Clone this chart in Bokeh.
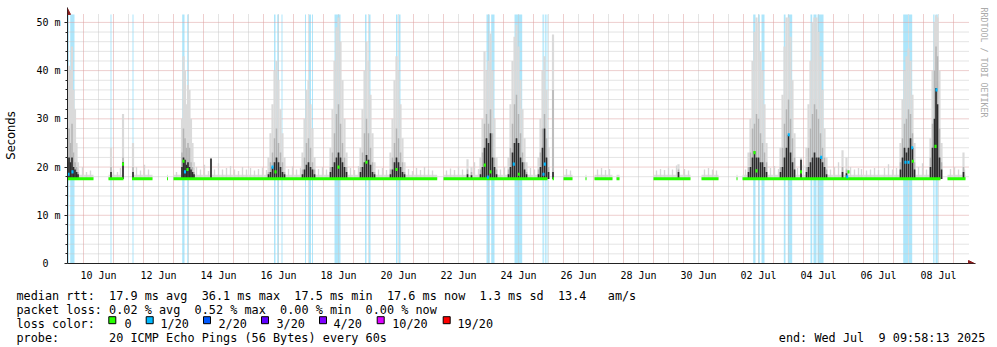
import re
from bokeh.plotting import figure
from bokeh.models import Range1d, FixedTicker, Arrow, NormalHead, Title
from bokeh.layouts import column
from bokeh.embed import file_html
from bokeh.resources import INLINE
from bokeh.core.properties import value

# ---------------- data: time in days since 2025-06-09 00:00, values in ms ----------------
view_start_day = 0.4667
view_end_day = 30.5
axis_end_day = 30.733
view_top_ms = 51.65
axis_top_ms = 53.09

x_tick_days = [1.5, 3.5, 5.5, 7.5, 9.5, 11.5, 13.5, 15.5, 17.5, 19.5, 21.5, 23.5, 25.5, 27.5, 29.5]
x_tick_labels = ["10 Jun", "12 Jun", "14 Jun", "16 Jun", "18 Jun", "20 Jun", "22 Jun", "24 Jun",
                 "26 Jun", "28 Jun", "30 Jun", "02 Jul", "04 Jul", "06 Jul", "08 Jul"]
y_ticks = [0, 10, 20, 30, 40, 50]
y_tick_labels = ["0\u00a0\u00a0", "10 m", "20 m", "30 m", "40 m", "50 m"]
y_minor_ticks = [2, 4, 6, 8, 12, 14, 16, 18, 22, 24, 26, 28, 32, 34, 36, 38, 42, 44, 46, 48]

# periods with packet loss (background shading, 1/20 loss)
loss_band_start = [0.475, 0.557, 1.900, 2.633, 4.290, 4.457, 7.350, 7.457, 7.600, 8.383, 8.517, 8.617,
                   9.367, 10.383, 10.517, 11.417, 11.517, 14.433, 14.590, 15.367, 16.300, 16.377, 16.433,
                   23.323, 23.490, 23.600, 24.343, 24.477, 25.233, 25.333, 25.467, 28.323, 28.510,
                   29.323, 29.400]
loss_band_end = [0.510, 0.700, 1.933, 2.667, 4.367, 4.500, 7.400, 7.510, 7.633, 8.417, 8.583, 8.650,
                 9.567, 10.433, 10.567, 11.467, 11.567, 14.543, 14.700, 15.623, 16.343, 16.410, 16.467,
                 23.400, 23.543, 23.700, 24.400, 24.623, 25.290, 25.433, 25.667, 28.490, 28.623,
                 29.367, 29.477]

# periods with data (median line present)
data_seg_start = [0.467, 1.833, 2.617, 3.783, 4.000, 13.000, 16.633, 17.000, 17.733, 18.033, 18.767,
                  20.000, 21.600, 22.767, 22.967, 29.800]
data_seg_end = [1.333, 2.333, 3.300, 3.817, 12.790, 16.467, 16.683, 17.300, 17.767, 18.633, 18.867,
                21.233, 22.167, 22.800, 29.567, 30.400]
data_seg_median = [17.6, 17.6, 17.6, 17.6, 17.6, 17.6, 17.6, 17.6, 17.6, 17.6, 17.6,
                   17.6, 17.6, 17.6, 17.6, 17.6]

# small smoke spikes above the median
fuzz_day = [0.833, 0.967, 1.100, 1.233, 2.000, 2.133, 2.233, 2.767, 2.900, 3.033, 3.167, 4.100,
            4.767, 4.900, 5.033, 5.167, 5.367, 5.500, 5.633, 5.767, 5.900, 6.033, 6.167, 6.300,
            6.433, 6.567, 6.700, 6.833, 6.967, 7.100, 7.833, 7.967, 8.100, 8.233, 8.833, 8.967,
            9.100, 9.900, 10.033, 10.167, 10.833, 10.967, 11.100, 11.833, 11.967, 12.100, 12.233,
            12.367, 12.500, 12.633, 13.100, 13.233, 13.367, 13.500, 13.633, 14.033, 14.167, 14.900,
            15.033, 15.900, 16.033, 17.100, 17.233, 18.133, 18.267, 18.400, 18.533, 20.100, 20.233,
            20.367, 20.500, 20.633, 20.767, 21.033, 21.167, 21.700, 21.833, 21.967, 22.100, 23.067,
            23.900, 24.033, 24.167, 24.800, 25.000, 25.900, 26.033, 26.167, 26.567, 26.700, 26.833,
            26.933, 27.100, 27.233, 27.367, 27.500, 27.700, 27.833, 27.967, 28.100, 28.833, 28.967,
            29.100, 29.900, 30.033, 30.167, 30.367]
fuzz_top = [19.5, 20.0, 19.0, 19.3, 19.5, 19.0, 19.8, 20.0, 19.3, 20.5, 19.5, 19.0,
            20.0, 19.5, 20.5, 19.2, 19.5, 20.8, 19.5, 19.8, 20.2, 19.5, 19.2, 20.0,
            19.5, 19.8, 19.3, 19.6, 19.9, 19.4, 19.6, 20.1, 19.5, 19.8, 19.6, 20.0,
            19.5, 19.8, 19.4, 20.2, 19.5, 19.8, 19.4, 19.6, 19.2, 19.8, 19.4,
            20.0, 19.5, 19.3, 19.3, 19.7, 19.4, 20.0, 19.5, 21.0, 19.6, 19.5,
            20.0, 19.8, 19.5, 19.6, 19.3, 19.5, 19.8, 19.4, 19.6, 19.3, 19.6,
            19.4, 19.8, 19.5, 20.3, 19.6, 19.3, 19.5, 19.8, 19.5, 19.3, 19.5,
            19.8, 20.2, 19.6, 19.8, 20.5, 19.5, 20.0, 21.0, 20.0, 19.5, 19.8,
            19.6, 19.3, 19.5, 19.8, 19.4, 19.8, 20.6, 19.5, 19.8, 20.0, 20.8,
            19.5, 19.6, 20.0, 19.5, 19.5]

# large smoke columns: light (max), mid and dark parts of the ping distribution
smoke_day = [0.467, 0.517, 0.567, 0.617, 0.667, 0.717, 0.767, 0.817,
             1.917, 2.317, 2.650,
             4.283, 4.333, 4.383, 4.433, 4.483, 4.533, 4.583, 4.633, 4.683, 5.250,
             7.167, 7.233, 7.300, 7.367, 7.433, 7.500, 7.567, 7.633, 7.700,
             8.300, 8.367, 8.433, 8.500, 8.567, 8.633, 8.700,
             9.233, 9.300, 9.367, 9.433, 9.500, 9.567, 9.633, 9.700, 9.767,
             10.233, 10.300, 10.367, 10.433, 10.500, 10.567, 10.633, 10.700,
             11.233, 11.300, 11.367, 11.433, 11.500, 11.567, 11.633, 11.700,
             13.800, 13.933,
             14.233, 14.300, 14.367, 14.433, 14.500, 14.567, 14.633, 14.700, 14.767,
             15.167, 15.233, 15.300, 15.367, 15.433, 15.500, 15.567, 15.633, 15.700, 15.767,
             16.167, 16.233, 16.300, 16.367, 16.433, 16.500, 16.650,
             20.833,
             23.167, 23.233, 23.300, 23.367, 23.433, 23.500, 23.567, 23.633, 23.700, 23.767,
             24.233, 24.300, 24.367, 24.433, 24.500, 24.567, 24.633, 24.700, 24.917,
             25.100, 25.167, 25.233, 25.300, 25.367, 25.433, 25.500, 25.567, 25.633, 25.700, 25.767,
             26.300, 26.433,
             28.233, 28.300, 28.367, 28.433, 28.500, 28.567, 28.633, 28.700,
             29.233, 29.300, 29.367, 29.417, 29.467, 29.533, 29.600,
             30.333]
smoke_hi = [38, 41, 40, 45, 36, 32, 25, 21,
            24, 31, 25,
            30, 43, 40, 33, 37, 36, 30, 25, 21, 21.8,
            22, 27, 33, 40, 42, 38, 32, 27, 22,
            23, 30, 36, 38, 33, 28, 22,
            24, 32, 42, 49, 51, 46, 38, 30, 23,
            24, 32, 40, 46, 42, 35, 27, 21,
            23, 30, 38, 43, 40, 33, 26, 21,
            21.6, 20,
            22, 30, 44, 40, 42, 47.7, 40, 30, 22,
            22, 33, 42, 47, 49.5, 45, 38, 32, 26, 21,
            22, 30, 40, 43, 36, 24, 47.5,
            20.6,
            23, 30, 42, 48, 51, 50, 44, 40, 33, 25,
            24, 35, 45, 51, 51, 47, 38, 27, 22,
            24, 33, 42, 50, 51, 51, 48, 43, 36, 28, 22,
            23.5, 22,
            25, 34, 40, 43, 44.6, 42, 35, 25,
            26, 40, 50, 51.5, 51, 40, 25,
            23]
smoke_mid = [26, 28, 25, 29, 23, 21, 20, 19,
             20, 22, 20,
             23, 28, 26, 24, 25, 24, 21, 20, 19, 21.5,
             19, 21, 23, 26, 28, 25, 23, 21, 19,
             19.5, 22, 25, 26, 24, 21, 19.5,
             20, 23, 27, 31, 33, 29, 25, 22, 20,
             20, 23, 27, 30, 27, 24, 21, 19,
             19.5, 22, 25, 28, 26, 23, 21, 19,
             19.5, 19,
             19.5, 23, 29, 31, 29, 32, 27, 22, 19.5,
             19.5, 24, 29, 33, 35, 31, 27, 23, 21, 19,
             19.5, 23, 28, 31, 26, 20, 36,
             19.5,
             20, 23, 28, 29, 31, 30, 27, 25, 23, 21,
             20, 24, 29, 32, 34, 30, 26, 22, 21.5,
             20, 24, 28, 31, 33, 32, 30, 27, 24, 22, 19.5,
             20, 19.5,
             21, 26, 29, 30, 32, 31, 27, 21,
             22, 29, 40, 45, 43, 28, 21,
             20]
smoke_dark = [21, 22, 21, 22, 20, 19.5, 19, 18.5,
              19, 21, 19,
              20, 22, 21.5, 20.5, 21, 20, 19.5, 19, 18.5, 21.8,
              18.5, 19, 20, 21, 22, 21, 20, 19, 18.5,
              18.5, 19.5, 20.5, 21, 20, 19.5, 18.5,
              19, 20, 21, 22, 23, 22, 21, 20, 19,
              19, 20, 21, 22.5, 21.5, 20.5, 19, 18.5,
              18.5, 19.5, 21, 22, 21, 20, 19, 18.5,
              18.5, 18.3,
              18.5, 20, 24, 26, 25, 27, 22, 20, 18.5,
              18.5, 20, 23, 25, 26, 25, 22, 21, 19.5, 18.5,
              18.5, 20, 24, 28, 22, 19, 19,
              19,
              19, 20, 22, 23.3, 22, 22, 21, 21, 20, 19,
              19, 20, 22, 24, 26.7, 23, 21, 19.5, 21.5,
              19, 20, 21, 22, 23, 22, 22, 22, 21, 20, 18.5,
              19, 18.7,
              19.5, 22, 24, 23, 24, 26, 24, 19.5,
              20, 24, 30, 36.4, 33, 22, 19.5,
              19]

# median points during loss / latency peaks (index into loss colours)
med_day = [0.500, 0.633, 2.317, 4.333, 4.383, 4.467, 7.300, 7.400, 9.500, 10.433, 11.433, 14.377,
           14.477, 14.567, 15.343, 15.510, 16.377, 16.333, 23.367, 23.433, 24.510, 24.917, 25.590,
           26.500, 26.457, 28.400, 28.500, 28.623, 28.643, 29.433, 29.400]
med_ms = [18.5, 19.0, 20.6, 21.2, 19.0, 19.5, 20.0, 19.0, 20.0, 21.0, 19.5, 20.4,
          17.9, 19.0, 20.6, 18.5, 20.6, 18.5, 23.0, 19.2, 26.7, 19.0, 22.0,
          19.0, 18.0, 21.0, 21.0, 24.0, 21.2, 36.0, 24.3]
med_loss = [1, 1, 0, 0, 1, 0, 1, 0, 0, 0, 0, 0,
            1, 0, 1, 0, 1, 1, 0, 0, 1, 0, 1,
            0, 1, 1, 1, 1, 0, 1, 0]

loss_labels = ["0", "1/20", "2/20", "3/20", "4/20", "10/20", "19/20"]
loss_colors = ["#26ff00", "#00b8ff", "#0059ff", "#5e00ff", "#7e00ff", "#dd00ff", "#ff0000"]

legend_line1 = "median rtt:  17.9 ms avg  36.1 ms max  17.5 ms min  17.6 ms now  1.3 ms sd  13.4   am/s"
legend_line2 = "packet loss: 0.02 % avg  0.52 % max  0.00 % min  0.00 % now"
legend_line3 = "loss color:"
legend_line4 = "probe:       20 ICMP Echo Pings (56 Bytes) every 60s"
end_text = "end: Wed Jul  9 09:58:13 2025"
credit_text = "RRDTOOL / TOBI OETIKER"

# ---------------- styles ----------------
MONO = "DejaVu Sans Mono"
AXIS_COLOR = "#222222"
ARROW_COLOR = "#8b1c1c"
BAND_COLOR = "#ade6fb"
MGRID_COLOR = "#dc9c9c"
GRID_COLOR = "#c8c8c8"


def no_frame_align(fig):
    try:
        fig.frame_align = False
    except Exception:
        pass


# ---------------- main chart ----------------
p = figure(width=997, height=283, title=None,
           x_range=Range1d(view_start_day, axis_end_day), y_range=Range1d(0, axis_top_ms),
           output_backend="svg", toolbar_location=None,
           min_border_left=67, min_border_right=22, min_border_top=7, min_border_bottom=18)
no_frame_align(p)
p.outline_line_color = None
p.background_fill_color = "white"
p.border_fill_color = "white"
p.xgrid.visible = False
p.ygrid.visible = False

# loss background
p.quad(left=loss_band_start, right=loss_band_end, bottom=0, top=view_top_ms,
       fill_color=BAND_COLOR, line_color=None)

# grid
x_major_grid = [float(d) for d in range(1, 31)]
x_minor_grid = [d + 0.5 for d in range(1, 30)]
y_major_grid = [10, 20, 30, 40, 50]
p.segment(x0=x_minor_grid, x1=x_minor_grid, y0=0, y1=view_top_ms,
          line_color=GRID_COLOR, line_width=1, line_dash="1 1")
p.segment(x0=view_start_day, x1=view_end_day, y0=y_minor_ticks, y1=y_minor_ticks,
          line_color=GRID_COLOR, line_width=1, line_dash="1 1")
p.segment(x0=x_major_grid, x1=x_major_grid, y0=0, y1=view_top_ms,
          line_color=MGRID_COLOR, line_width=1, line_dash="1 1")
p.segment(x0=view_start_day, x1=view_end_day, y0=y_major_grid, y1=y_major_grid,
          line_color=MGRID_COLOR, line_width=1, line_dash="1 1")

# smoke
p.quad(left=data_seg_start, right=data_seg_end, bottom=17.45, top=18.4,
       fill_color="#dedede", line_color=None)
p.vbar(x=fuzz_day, width=0.045, bottom=17.5, top=fuzz_top, fill_color="#d6d6d6", line_color=None)
p.vbar(x=smoke_day, width=0.072, bottom=17.5, top=smoke_hi, fill_color="#dadada", line_color=None)
p.vbar(x=smoke_day, width=0.05, bottom=17.5, top=smoke_mid, fill_color="#b4b4b4", line_color=None)
p.vbar(x=smoke_day, width=0.055, bottom=17.5, top=smoke_dark, fill_color="#2c2c2c", line_color=None)

# median
p.segment(x0=data_seg_start, x1=data_seg_end, y0=data_seg_median, y1=data_seg_median,
          line_color=loss_colors[0], line_width=3)
p.rect(x=med_day, y=med_ms, width=0.07, height=0.65,
       fill_color=[loss_colors[i] for i in med_loss], line_color=None)

# axes
p.xaxis.ticker = FixedTicker(ticks=x_tick_days)
p.xaxis.major_label_overrides = {t: l for t, l in zip(x_tick_days, x_tick_labels)}
p.xaxis.major_tick_out = 0
p.xaxis.major_tick_in = 0
p.xaxis.minor_tick_out = 0
p.xaxis.minor_tick_in = 0
p.xaxis.major_label_standoff = 6
p.xaxis.major_label_text_font = MONO
p.xaxis.major_label_text_font_size = "10px"
p.xaxis.major_label_text_color = "black"
p.xaxis.axis_line_color = AXIS_COLOR

p.yaxis.ticker = FixedTicker(ticks=y_ticks, minor_ticks=y_minor_ticks)
p.yaxis.major_label_overrides = {t: l for t, l in zip(y_ticks, y_tick_labels)}
p.yaxis.major_tick_out = 3
p.yaxis.major_tick_in = 0
p.yaxis.minor_tick_out = 2
p.yaxis.minor_tick_in = 0
p.yaxis.major_tick_line_color = AXIS_COLOR
p.yaxis.minor_tick_line_color = AXIS_COLOR
p.yaxis.major_label_standoff = 4
p.yaxis.major_label_text_font = MONO
p.yaxis.major_label_text_font_size = "10px"
p.yaxis.major_label_text_color = "black"
p.yaxis.axis_line_color = AXIS_COLOR
p.yaxis.axis_label = "Seconds"
p.yaxis.axis_label_text_font = "DejaVu Sans"
p.yaxis.axis_label_text_font_size = "11.5px"
p.yaxis.axis_label_text_font_style = "normal"
p.yaxis.axis_label_text_color = "black"
p.yaxis.axis_label_standoff = 15

# axis arrows
p.add_layout(Arrow(end=NormalHead(size=6, fill_color=ARROW_COLOR, line_color=ARROW_COLOR),
                   x_start=view_start_day, y_start=view_top_ms, x_end=view_start_day, y_end=52.9,
                   line_color=AXIS_COLOR, line_width=1))
p.add_layout(Arrow(end=NormalHead(size=6, fill_color=ARROW_COLOR, line_color=ARROW_COLOR),
                   x_start=view_end_day, y_start=0, x_end=30.7, y_end=0,
                   line_color=AXIS_COLOR, line_width=1))

# credit text at right
p.add_layout(Title(text=credit_text, align="left", text_font=MONO, text_font_size="8.3px",
                   text_color="#aaaaaa", text_font_style="normal", standoff=6, offset=0), "right")

# ---------------- legend area ----------------
q = figure(width=997, height=64, title=None, x_range=Range1d(0, 997), y_range=Range1d(347, 283),
           output_backend="svg", toolbar_location=None,
           min_border_left=0, min_border_right=0, min_border_top=0, min_border_bottom=0,
           x_axis_location=None, y_axis_location=None)
no_frame_align(q)
q.outline_line_color = None
q.grid.visible = False
q.background_fill_color = "white"
q.border_fill_color = "white"

CHAR_W = 7.124
tx, ty, tt = [], [], []
for line, base, x0 in [(legend_line1, 295, 16), (legend_line2, 309, 16), (legend_line3, 323, 16),
                       (legend_line4, 337, 16), (end_text, 337, 778.3)]:
    for m in re.finditer(r"\S+", line):
        tx.append(x0 + m.start() * CHAR_W)
        ty.append(base)
        tt.append(m.group())
q.text(x=tx, y=ty, text=tt, text_font=value(MONO), text_font_size="11.8px",
       text_baseline="alphabetic", text_align="left", text_color="black")

box_left = [108.3, 145.7, 203.0, 261.0, 319.0, 376.7, 442.7]
label_left = [124.0, 160.0, 218.0, 276.0, 333.0, 391.7, 457.0]
q.rect(x=[b + 3.5 for b in box_left], y=319.7, width=7, height=7,
       fill_color=loss_colors, line_color="black", line_width=1)
q.text(x=label_left, y=323, text=loss_labels, text_font=value(MONO), text_font_size="11.8px",
       text_baseline="alphabetic", text_align="left", text_color="black")

layout = column(p, q, spacing=0)
open("out.html", "w").write(file_html(layout, INLINE))
